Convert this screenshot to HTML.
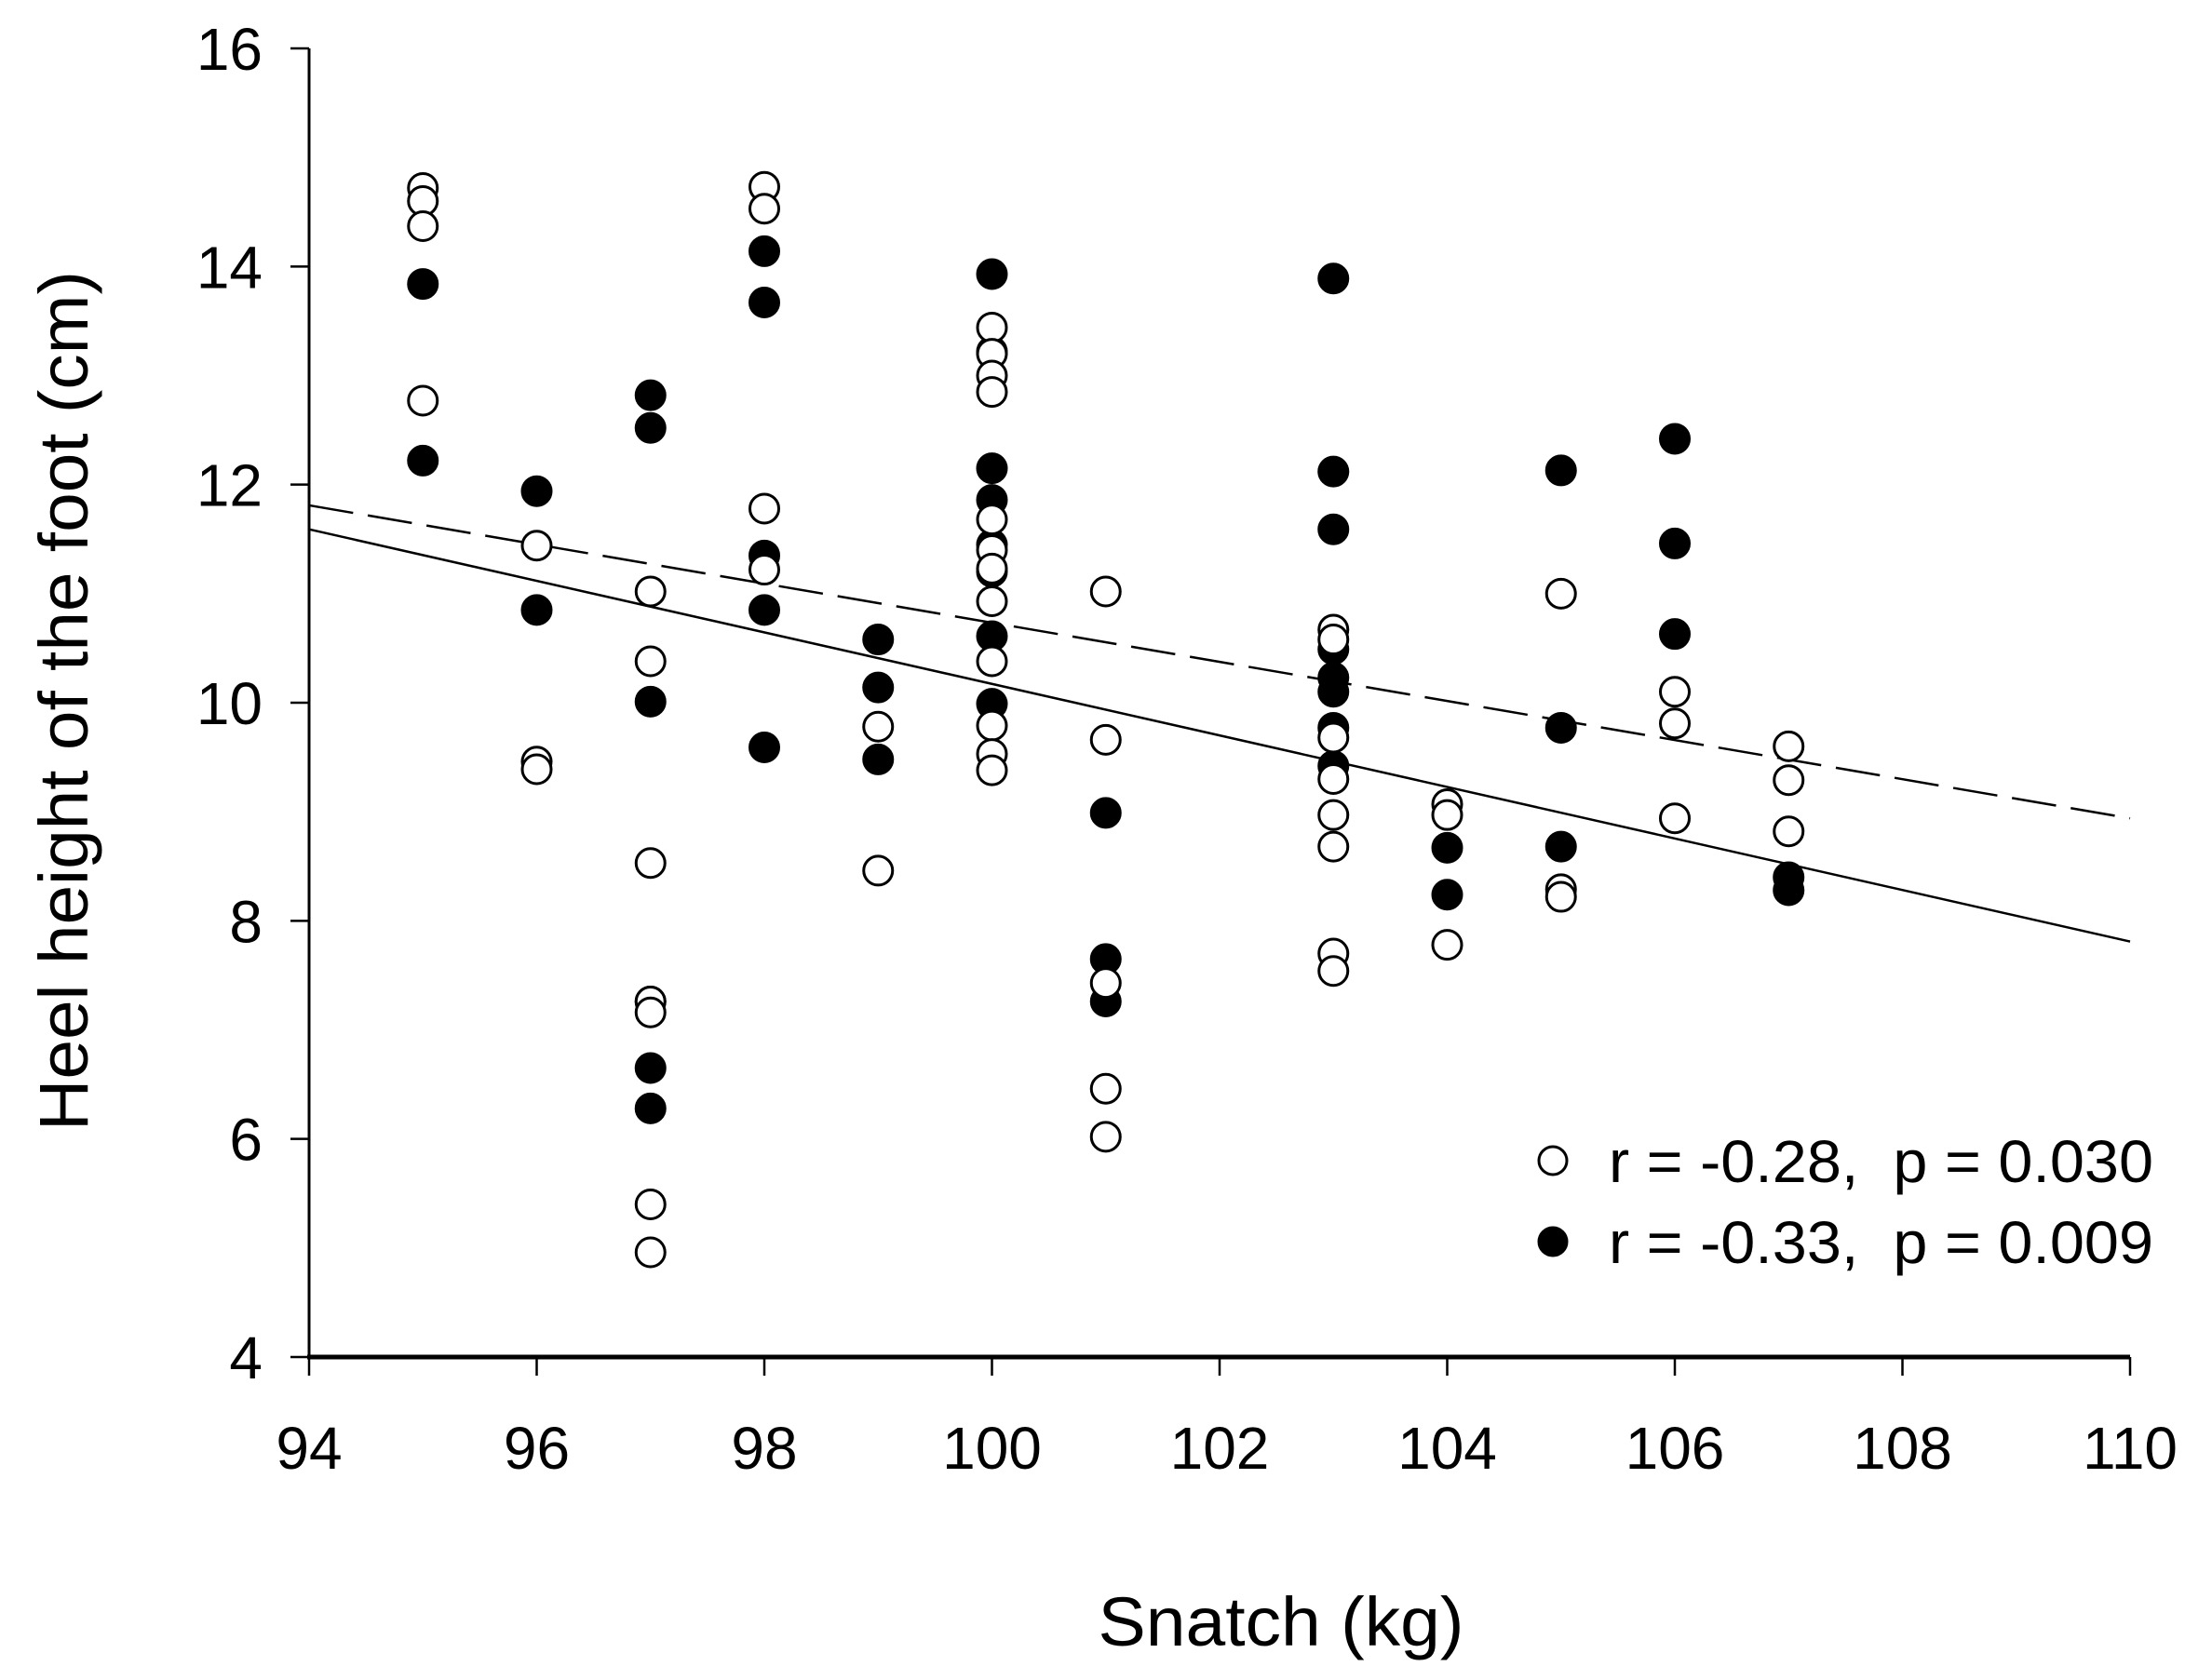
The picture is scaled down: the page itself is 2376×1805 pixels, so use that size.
<!DOCTYPE html>
<html><head><meta charset="utf-8"><style>
html,body{margin:0;padding:0;background:#fff;}
svg{display:block;font-family:"Liberation Sans",Arial,sans-serif;}
</style></head><body>
<svg id="chart" width="2376" height="1805" viewBox="0 0 2376 1805" xmlns="http://www.w3.org/2000/svg">
<rect width="2376" height="1805" fill="#fff"/>
<g id="axes"></g>
<g id="lines"></g>
<g id="points"></g>
<text x="1376" y="1768" font-size="74" text-anchor="middle" textLength="393" lengthAdjust="spacingAndGlyphs">Snatch (kg)</text>
<text transform="translate(94,753) rotate(-90)" font-size="74" text-anchor="middle" textLength="924" lengthAdjust="spacingAndGlyphs">Heel height of the foot (cm)</text>
<g>
<circle cx="1668" cy="1247" r="15" fill="#fff" stroke="#000" stroke-width="3"/>
<text x="1728" y="1270" font-size="64" xml:space="preserve" textLength="585" lengthAdjust="spacingAndGlyphs">r = -0.28,  p = 0.030</text>
<circle cx="1668" cy="1334" r="15" fill="#000" stroke="#000" stroke-width="3"/>
<text x="1728" y="1357" font-size="64" xml:space="preserve" textLength="585" lengthAdjust="spacingAndGlyphs">r = -0.33,  p = 0.009</text>
</g>
</svg>
<script>
const xTicks=[94,96,98,100,102,104,106,108,110];
const yTicks=[4,6,8,10,12,14,16];
const openX=[95,95,95,95,96,96,96,97,97,97,97,97,97,97,98,98,98,98,99,99,100,100,100,100,100,100,100,100,100,100,100,100,101,101,101,101,101,103,103,103,103,103,103,103,103,104,104,104,105,105,105,106,106,106,107,107,107];
const openY=[14.72,14.6,14.37,12.77,11.44,9.46,9.39,11.02,10.38,8.53,7.26,7.16,5.40,4.96,14.73,14.53,11.78,11.22,9.78,8.46,13.44,13.2,13.0,12.85,11.68,11.4,11.23,10.93,10.38,9.79,9.53,9.38,11.02,9.66,7.43,6.46,6.02,10.67,10.58,9.68,9.3,8.97,8.68,7.7,7.54,9.07,8.97,7.78,11.0,8.29,8.22,10.1,9.81,8.94,9.6,9.29,8.82];
const filledX=[95,95,96,96,97,97,97,97,97,97,98,98,98,98,98,99,99,99,100,100,100,100,100,100,100,100,101,101,101,103,103,103,103,103,103,103,103,104,104,105,105,105,106,106,106,107,107];
const filledY=[13.84,12.22,11.94,10.85,12.82,12.52,10.01,7.26,6.65,6.28,14.14,13.67,11.35,10.85,9.59,10.58,10.14,9.48,13.93,13.22,12.15,11.86,11.45,11.2,10.61,9.99,8.99,7.65,7.26,13.89,12.12,11.59,10.49,10.23,10.1,9.77,9.42,8.67,8.24,12.13,9.77,8.68,12.42,11.46,10.63,8.4,8.28];
const solidFit=[11.59,7.81];
const dashedFit=[11.81,8.94];
</script>
<script>
(function(){
const NS="http://www.w3.org/2000/svg";
const X0=332,X1=2288,Y0=1458,Y1=52;
const sx=v=>X0+(v-94)/(110-94)*(X1-X0);
const sy=v=>Y0-(v-4)/(16-4)*(Y0-Y1);
function mk(tag,attrs,parent){const e=document.createElementNS(NS,tag);for(const k in attrs)e.setAttribute(k,attrs[k]);parent.appendChild(e);return e;}
const ax=document.getElementById('axes');
let l=mk('line',{x1:X0,y1:Y1,x2:X0,y2:Y0,stroke:'#000','stroke-width':3},ax);


l=mk('line',{x1:X0-2,y1:Y0,x2:X1,y2:Y0,stroke:'#000','stroke-width':5},ax);


xTicks.forEach(t=>{
 const x=sx(t);
 const tk=mk('line',{x1:x,y1:Y0,x2:x,y2:Y0+20,stroke:'#000','stroke-width':2.5},ax);
 
 
 const tx=mk('text',{x:x,y:1578,'font-size':64,'text-anchor':'middle'},ax);
 tx.textContent=t;
 
 
});
yTicks.forEach(t=>{
 const y=sy(t);
 const tk=mk('line',{x1:X0-20,y1:y,x2:X0,y2:y,stroke:'#000','stroke-width':2.5},ax);
 
 
 const tx=mk('text',{x:282,y:y+23,'font-size':64,'text-anchor':'end'},ax);
 tx.textContent=t;
 
 
});
const lg=document.getElementById('lines');
let s=mk('line',{x1:sx(94),y1:sy(solidFit[0]),x2:sx(110),y2:sy(solidFit[1]),stroke:'#000','stroke-width':2.5},lg);


s=mk('line',{x1:sx(94),y1:sy(dashedFit[0]),x2:sx(110),y2:sy(dashedFit[1]),stroke:'#000','stroke-width':2.5,'stroke-dasharray':'48,16'},lg);


const pg=document.getElementById('points');
filledX.forEach((x,i)=>{
 const c=mk('circle',{cx:sx(x),cy:sy(filledY[i]),r:15.5,fill:'#000',stroke:'#000','stroke-width':3},pg);
 
 
});
openX.forEach((x,i)=>{
 const c=mk('circle',{cx:sx(x),cy:sy(openY[i]),r:15.5,fill:'#fff',stroke:'#000','stroke-width':3},pg);
 
 
});
})();
</script>
</body></html>
